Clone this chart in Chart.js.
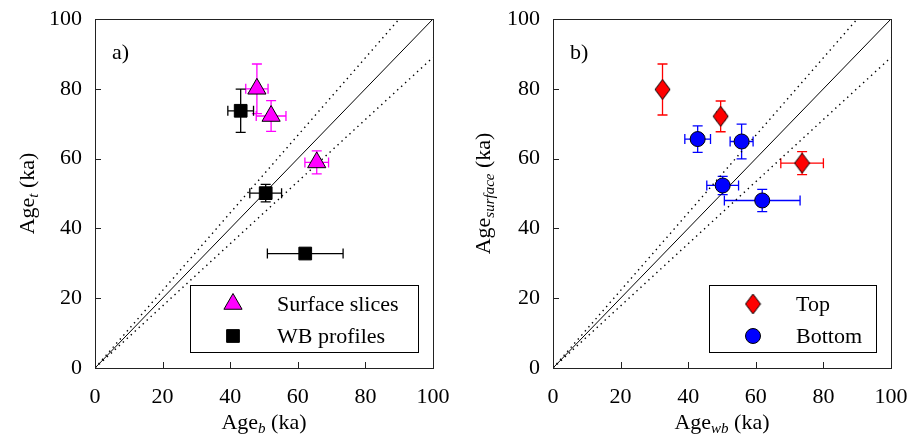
<!DOCTYPE html>
<html>
<head>
<meta charset="utf-8">
<script src="https://cdn.jsdelivr.net/npm/chart.js@4"></script>
<style>
  body { margin: 0; background: #fff; }
  canvas { position: absolute; top: 0; }
  #chartA { left: 0; }
  #chartB { left: 455px; }
</style>
</head>
<body>
<canvas id="chartA" width="455" height="439"></canvas>
<canvas id="chartB" width="456" height="439"></canvas>
<script>
// ---- dados ----
const ticks = [0, 20, 40, 60, 80, 100];

// painel a)
const slicesX = [47.9, 52.1, 65.6];
const slicesY = [80.0, 72.2, 58.9];
const slicesXErr = [3.3, 4.4, 3.5];
const slicesYErr = [7.1, 4.4, 3.3];

const wbX = [43.1, 50.5, 62.2];
const wbY = [73.7, 50.1, 32.8];
const wbXErr = [3.8, 4.7, 11.2];
const wbYErr = [6.2, 2.5, 0.8];

// painel b)
const topX = [32.4, 49.6, 73.7];
const topY = [79.8, 72.1, 58.7];
const topXErr = [0.8, 1.2, 6.3];
const topYErr = [7.3, 4.4, 3.3];

const bottomX = [42.8, 55.8, 50.2, 61.9];
const bottomY = [65.6, 64.9, 52.3, 48.0];
const bottomXErr = [3.8, 3.4, 4.7, 11.2];
const bottomYErr = [3.8, 5.0, 2.6, 3.2];

// linhas de referência 1:1 e limites pontilhados
const oneX = [0, 100], oneY = [0, 100];
const upperX = [0, 90], upperY = [0, 100];
const lowerX = [0, 100], lowerY = [0, 89];

const FONT = "Liberation Serif, DejaVu Serif, serif";

// losango alongado (marcador "Top")
function makeDiamond(w, h, fill) {
  const c = document.createElement('canvas');
  c.width = w + 2; c.height = h + 2;
  const g = c.getContext('2d');
  g.beginPath();
  g.moveTo(c.width / 2, 1);
  g.lineTo(c.width - 1, c.height / 2);
  g.lineTo(c.width / 2, c.height - 1);
  g.lineTo(1, c.height / 2);
  g.closePath();
  g.fillStyle = fill; g.fill();
  g.strokeStyle = '#000'; g.lineWidth = 1; g.stroke();
  return c;
}
const diamondRed = makeDiamond(15, 20, '#ff0000');

function pts(xs, ys, xe, ye) {
  return xs.map((x, i) => ({ x: x, y: ys[i], xErr: xe ? xe[i] : 0, yErr: ye ? ye[i] : 0 }));
}

function refLine(xs, ys, dotted) {
  return {
    type: 'line',
    data: pts(xs, ys),
    borderColor: '#000',
    borderWidth: dotted ? 1.4 : 1,
    borderDash: dotted ? [1.4, 4] : [],
    pointRadius: 0,
    fill: false,
    order: 5,
    isRef: true
  };
}

// desenha texto com subscrito (itálico) — ex.: Age_b (ka)
function drawSubText(ctx, main, sub, tail, x, y, rot) {
  ctx.save();
  ctx.translate(x, y);
  if (rot) ctx.rotate(-Math.PI / 2);
  ctx.fillStyle = '#000';
  ctx.textBaseline = 'alphabetic';
  const fMain = '22px ' + FONT;
  const fSub = 'italic 15px ' + FONT;
  ctx.font = fMain; const w1 = ctx.measureText(main).width;
  ctx.font = fSub; const w2 = ctx.measureText(sub).width;
  ctx.font = fMain; const w3 = ctx.measureText(tail).width;
  let cx = -(w1 + w2 + w3) / 2;
  ctx.textAlign = 'left';
  ctx.font = fMain; ctx.fillText(main, cx, 0); cx += w1;
  ctx.font = fSub; ctx.fillText(sub, cx, 4); cx += w2;
  ctx.font = fMain; ctx.fillText(tail, cx, 0);
  ctx.restore();
}

const errorBarsPlugin = {
  id: 'errorBars',
  beforeDatasetsDraw(chart) {
    const { ctx, scales: { x, y } } = chart;
    const cap = 5;
    chart.data.datasets.forEach((ds, i) => {
      if (ds.isRef || !chart.isDatasetVisible(i)) return;
      ctx.save();
      ctx.strokeStyle = ds.errColor;
      ctx.lineWidth = 1.3;
      ds.data.forEach(p => {
        const px = x.getPixelForValue(p.x), py = y.getPixelForValue(p.y);
        if (p.xErr) {
          const x0 = x.getPixelForValue(p.x - p.xErr), x1 = x.getPixelForValue(p.x + p.xErr);
          ctx.beginPath();
          ctx.moveTo(x0, py); ctx.lineTo(x1, py);
          ctx.moveTo(x0, py - cap); ctx.lineTo(x0, py + cap);
          ctx.moveTo(x1, py - cap); ctx.lineTo(x1, py + cap);
          ctx.stroke();
        }
        if (p.yErr) {
          const y0 = y.getPixelForValue(p.y - p.yErr), y1 = y.getPixelForValue(p.y + p.yErr);
          ctx.beginPath();
          ctx.moveTo(px, y0); ctx.lineTo(px, y1);
          ctx.moveTo(px - cap, y0); ctx.lineTo(px + cap, y0);
          ctx.moveTo(px - cap, y1); ctx.lineTo(px + cap, y1);
          ctx.stroke();
        }
      });
      ctx.restore();
    });
  }
};

const framePlugin = {
  id: 'frame',
  afterDraw(chart, args, opts) {
    const { ctx, chartArea: a, scales: { x, y } } = chart;
    ctx.save();
    ctx.strokeStyle = '#222';
    ctx.lineWidth = 1;
    ctx.strokeRect(a.left + 0.5, a.top + 0.5, a.right - a.left, a.bottom - a.top);
    // ticks para dentro
    ctx.beginPath();
    x.ticks.forEach(t => {
      const px = Math.round(x.getPixelForValue(t.value)) + 0.5;
      ctx.moveTo(px, a.bottom); ctx.lineTo(px, a.bottom - 6);
    });
    y.ticks.forEach(t => {
      const py = Math.round(y.getPixelForValue(t.value)) + 0.5;
      ctx.moveTo(a.left, py); ctx.lineTo(a.left + 6, py);
    });
    ctx.stroke();

    // rótulo do painel
    ctx.fillStyle = '#000';
    ctx.font = '22px ' + FONT;
    ctx.textAlign = 'left';
    ctx.textBaseline = 'alphabetic';
    ctx.fillText(opts.panel, a.left + 17, 59);

    // títulos dos eixos
    drawSubText(ctx, 'Age', opts.xSub, ' (ka)', (a.left + a.right) / 2, 429, false);
    drawSubText(ctx, 'Age', opts.ySub, ' (ka)', opts.yTitleX, (a.top + a.bottom) / 2, true);

    // legenda
    const L = opts.legend;
    ctx.lineWidth = 1;
    ctx.strokeStyle = '#000';
    ctx.fillStyle = '#fff';
    ctx.fillRect(L.x, L.y, L.w, L.h);
    ctx.strokeRect(L.x + 0.5, L.y + 0.5, L.w, L.h);
    const series = chart.data.datasets.filter(d => !d.isRef);
    series.forEach((ds, i) => {
      const ry = L.y + 19 + i * 32;
      ctx.fillStyle = ds.backgroundColor;
      ctx.strokeStyle = '#000';
      ctx.lineWidth = 1;
      Chart.helpers.drawPoint(ctx, { pointStyle: ds.pointStyle, radius: ds.pointRadius, borderWidth: 1 }, L.mx, ry);
      ctx.fillStyle = '#000';
      ctx.font = '22px ' + FONT;
      ctx.textBaseline = 'middle';
      ctx.fillText(ds.label, L.tx, ry + 1);
    });
    ctx.restore();
  }
};

function makeChart(id, datasets, o) {
  return new Chart(document.getElementById(id), {
    type: 'scatter',
    data: { datasets: datasets },
    plugins: [errorBarsPlugin, framePlugin],
    options: {
      responsive: false,
      animation: false,
      layout: { padding: { top: 19, right: o.padRight, left: 0, bottom: 0 } },
      plugins: {
        legend: { display: false },
        tooltip: { enabled: false },
        frame: o
      },
      scales: {
        x: {
          type: 'linear', min: 0, max: 100,
          afterBuildTicks: s => { s.ticks = ticks.map(v => ({ value: v })); },
          afterFit: s => { s.height = 71; s.paddingLeft = 0; s.paddingRight = 0; },
          grid: { display: false, drawTicks: false },
          border: { display: false },
          ticks: { color: '#000', padding: 16, font: { family: FONT, size: 22 } }
        },
        y: {
          type: 'linear', min: 0, max: 100,
          afterBuildTicks: s => { s.ticks = ticks.map(v => ({ value: v })); },
          afterFit: s => { s.width = o.yWidth; s.paddingTop = 0; s.paddingBottom = 0; },
          grid: { display: false, drawTicks: false },
          border: { display: false },
          ticks: { color: '#000', padding: 13, font: { family: FONT, size: 22 } }
        }
      }
    }
  });
}

makeChart('chartA', [
  {
    label: 'Surface slices', data: pts(slicesX, slicesY, slicesXErr, slicesYErr),
    pointStyle: 'triangle', pointRadius: 10.5, backgroundColor: '#ff00ff',
    borderColor: '#000', borderWidth: 1, errColor: '#ff00ff', order: 1
  },
  {
    label: 'WB profiles', data: pts(wbX, wbY, wbXErr, wbYErr),
    pointStyle: 'rect', pointRadius: 9, backgroundColor: '#000',
    borderColor: '#000', borderWidth: 1, errColor: '#000', order: 2
  },
  refLine(oneX, oneY, false),
  refLine(upperX, upperY, true),
  refLine(lowerX, lowerY, true)
], {
  panel: 'a)', xSub: 'b', ySub: 't', yWidth: 95, padRight: 22, yTitleX: 34,
  legend: { x: 190, y: 285, w: 228, h: 67, mx: 233, tx: 277 }
});

makeChart('chartB', [
  {
    label: 'Top', data: pts(topX, topY, topXErr, topYErr),
    pointStyle: diamondRed, pointRadius: 10, backgroundColor: '#ff0000',
    borderColor: '#000', borderWidth: 1, errColor: '#ff0000', order: 1
  },
  {
    label: 'Bottom', data: pts(bottomX, bottomY, bottomXErr, bottomYErr),
    pointStyle: 'circle', pointRadius: 7.5, backgroundColor: '#0000ff',
    borderColor: '#000', borderWidth: 1, errColor: '#0000ff', order: 2
  },
  refLine(oneX, oneY, false),
  refLine(upperX, upperY, true),
  refLine(lowerX, lowerY, true)
], {
  panel: 'b)', xSub: 'wb', ySub: 'surface', yWidth: 98, padRight: 20, yTitleX: 35,
  legend: { x: 254, y: 285, w: 167, h: 67, mx: 298, tx: 341 }
});
</script>
</body>
</html>
